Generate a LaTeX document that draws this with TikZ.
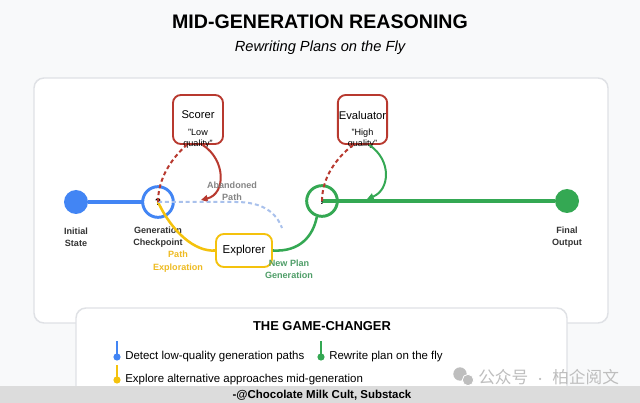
\documentclass[tikz,border=0pt]{standalone}
\usepackage{fontspec}
\setmainfont{Liberation Sans}
\newfontfamily\cjkfont{Noto Sans CJK SC}
\usetikzlibrary{arrows.meta}
\definecolor{gblue}{HTML}{4285F4}
\definecolor{ggreen}{HTML}{34A853}
\definecolor{gyellow}{HTML}{F4C20D}
\definecolor{gred}{HTML}{B8392F}
\definecolor{fadeblue}{HTML}{A9C1EC}
\definecolor{panelline}{HTML}{DFE1E5}
\definecolor{pagebg}{HTML}{F8F9FA}
\definecolor{bandgray}{HTML}{DCDCDC}
\definecolor{labelgray}{HTML}{858585}
\definecolor{labelgreen}{HTML}{4F9E68}
\definecolor{labelyellow}{HTML}{EEBB22}
\definecolor{wmgray}{HTML}{BEBEBE}
\tikzset{
  panel/.style={draw=panelline,line width=1.1pt,fill=white,rounded corners=7.5pt},
  stateball/.style={circle,inner sep=0pt,minimum size=18pt},
  checkring/.style={circle,draw,fill=white,inner sep=0pt,line width=2.2pt,minimum size=23pt},
  agentbox/.style={draw,rounded corners=6pt,line width=1.4pt,fill=white,inner sep=0pt},
  mainline/.style={line width=3pt},
  flowline/.style={line width=1.9pt},
  dashline/.style={line width=1.5pt,dash pattern=on 3pt off 2.2pt},
  statelabel/.style={align=center,text=black!80,font=\bfseries\fontsize{6.8pt}{9pt}\selectfont},
  pathlabel/.style={align=center,font=\bfseries\fontsize{6.8pt}{9.3pt}\selectfont},
  boxtitle/.style={inner sep=0pt,font=\fontsize{8.4pt}{10pt}\selectfont},
  boxnote/.style={inner sep=0pt,align=center,font=\fontsize{6.8pt}{8.3pt}\selectfont},
  markglyph/.style={inner sep=0pt,font=\bfseries\fontsize{7.2pt}{8pt}\selectfont},
  bulletdot/.style={circle,inner sep=0pt,minimum size=5.4pt},
  bullettext/.style={anchor=west,inner sep=0pt,font=\fontsize{8.6pt}{10pt}\selectfont},
  tip/.style={-{Triangle[length=5pt,width=5pt]}}
}
\begin{document}
\begin{tikzpicture}[x=0.75pt,y=-0.75pt]
  \fill[pagebg] (0,0) rectangle (640,403);
  \useasboundingbox (0,0) rectangle (640,403);
  \node[font=\bfseries\fontsize{14.7pt}{17pt}\selectfont] (title) at (320,22) {MID-GENERATION REASONING};
  \node[font=\itshape\fontsize{11pt}{13pt}\selectfont] (subtitle) at (320,48) {Rewriting Plans on the Fly};
  \draw[panel] (34,78) rectangle (608,323);
  \draw
    (76,202) node[stateball,fill=gblue] (init){}
    (567,201) node[stateball,fill=ggreen] (final){};
  \draw[mainline,gblue] (init) -- (158,202);
  \draw
    (158,202) node[checkring,draw=gblue] (cp1){}
    (322,201) node[checkring,draw=ggreen] (cp2){};
  \draw[mainline,ggreen] (cp2.center) -- (final);
  \node[markglyph] (qmark) at (158,202) {?};
  \node[markglyph] (emark) at (322,201) {!};
  \node[statelabel] (initlab) at (76,237) {Initial\\State};
  \node[statelabel] (cp1lab) at (158,237) {Generation\\Checkpoint};
  \node[statelabel] (finallab) at (567,237) {Final\\Output};
  \node[agentbox,draw=gred,minimum width=37.5pt,minimum height=36.8pt] (scorer) at (198,119.5) {};
  \node[agentbox,draw=gred,minimum width=37pt,minimum height=36.8pt] (evaluator) at (362.5,119.5) {};
  \node[agentbox,draw=gyellow,minimum width=42pt,minimum height=24.8pt,font=\fontsize{8.6pt}{10pt}\selectfont] (explorer) at (244,250.5) {Explorer};
  \node[boxtitle] (scorertxt) at (198,115) {Scorer};
  \node[boxnote] (scorernote) at (198,138.5) {"Low\\quality"};
  \node[boxtitle] (evaltxt) at (362.5,115) {Evaluator};
  \node[boxnote] (evalnote) at (362.5,138.5) {"High\\quality"};
  \coordinate (drop) at (201,200);
  \coordinate (fade) at (282,228);
  \coordinate (merge) at (367,199);
  \begin{scope}[flowline]
    \draw[gyellow] (cp1.center) .. controls (172,232) and (195,252) .. (explorer.west);
    \draw[ggreen] (explorer.east) .. controls (300,252) and (313,236) .. (cp2.-108);
    \draw[gred,line width=1.5pt,tip] ([xshift=3.5pt]scorer.south) .. controls (226,160) and (226,194) .. (drop);
    \draw[ggreen,line width=1.5pt,tip] ([xshift=5pt]evaluator.south) .. controls (392,160) and (390,190) .. (merge);
  \end{scope}
  \begin{scope}[dashline]
    \draw[fadeblue] (cp1.center) -- (236,202) .. controls (262,202) and (276,212) .. (fade);
    \draw[gred] (cp1.center) .. controls (158,178) and (172,158) .. ([xshift=-8.5pt]scorer.south);
    \draw[gred] (cp2.center) .. controls (322,178) and (336,158) .. ([xshift=-7pt]evaluator.south);
  \end{scope}
  \node[pathlabel,text=labelgray] (abandoned) at (232,191.5) {Abandoned\\Path};
  \node[pathlabel,text=labelyellow] (explab) at (178,261.5) {Path\\Exploration};
  \node[pathlabel,text=labelgreen] (newplan) at (289,269.5) {New Plan\\Generation};
  \draw[panel] (76,308) rectangle (567,398);
  \node[font=\bfseries\fontsize{9.7pt}{11pt}\selectfont] (gamehead) at (322,326) {THE GAME-CHANGER};
  \node[bulletdot,fill=gblue] (dot1) at (117,357) {};
  \node[bulletdot,fill=ggreen] (dot2) at (321,357) {};
  \node[bulletdot,fill=gyellow] (dot3) at (117,380) {};
  \draw[gblue,line width=1.1pt] (dot1.center) -- ++(0,-16);
  \draw[ggreen,line width=1.1pt] (dot2.center) -- ++(0,-16);
  \draw[gyellow,line width=1.1pt] (dot3.center) -- ++(0,-15);
  \node[bullettext] (item1) at (125,357) {Detect low-quality generation paths};
  \node[bullettext] (item2) at (329,357) {Rewrite plan on the fly};
  \node[bullettext] (item3) at (125,380) {Explore alternative approaches mid-generation};
  \fill[bandgray] (0,386) rectangle (640,403);
  \node[font=\bfseries\fontsize{8.6pt}{10pt}\selectfont] (credit) at (322,395.5) {-@Chocolate Milk Cult, Substack};
  \node[circle,fill=wmgray,inner sep=0pt,minimum size=10pt] (wmbig) at (460,374) {};
  \node[circle,fill=wmgray,draw=white,line width=0.6pt,inner sep=0pt,minimum size=8.5pt] (wmsmall) at (468,380) {};
  \node[anchor=west,inner sep=0pt,text=wmgray,font=\cjkfont\fontsize{12.5pt}{14pt}\selectfont] (wmtext) at (478,377) {公众号\hspace{5pt}{\fontsize{8pt}{9pt}\selectfont ·}\hspace{5pt}柏企阅文};
\end{tikzpicture}
\end{document}
